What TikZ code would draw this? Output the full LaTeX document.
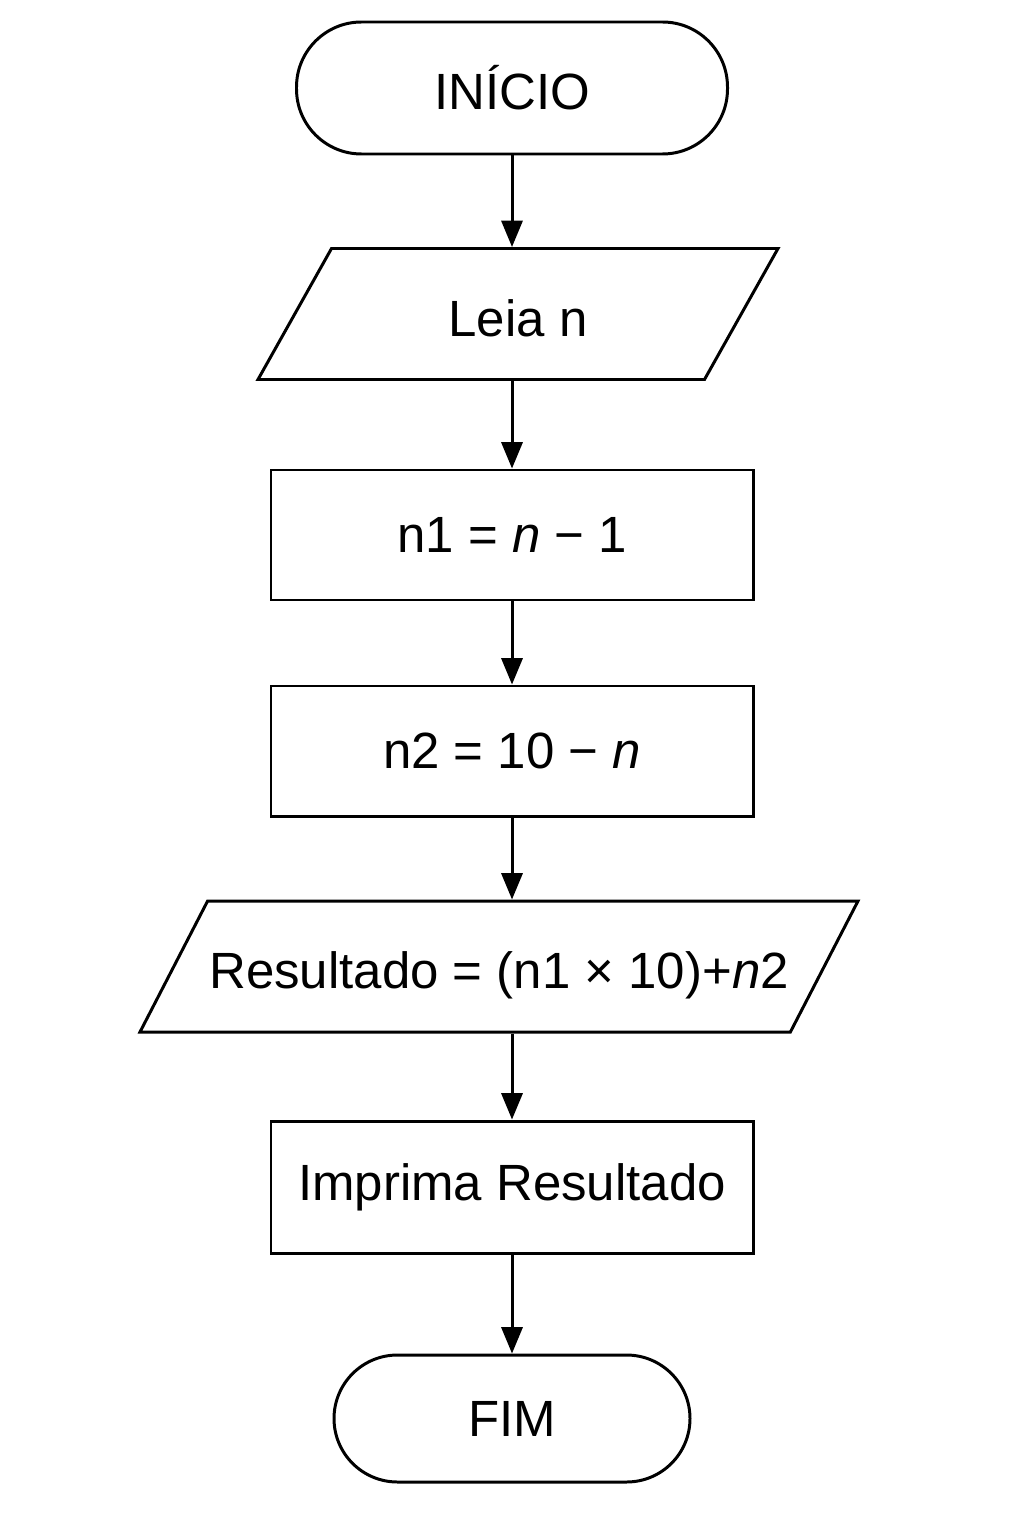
\documentclass[tikz,border=0pt]{standalone}
\usepackage{fontspec}
\setmainfont{Liberation Sans}
\usetikzlibrary{shapes.geometric,arrows.meta}

\begin{document}
\begin{tikzpicture}[
    every node/.style={draw, line width=1.7pt, inner sep=0pt, font=\fontsize{29}{35}\selectfont},
    term/.style={rectangle, rounded corners=1.3cm, minimum height=2.64cm},
    io/.style={trapezium, trapezium stretches body=true, text height=0.94cm, text depth=0.06cm, inner ysep=0.81cm, inner xsep=0pt},
    proc/.style={rectangle, minimum width=9.64cm, minimum height=2.6cm},
    flow/.style={line width=1.7pt, -{Triangle[width=12pt, length=15pt]}}
  ]
    \useasboundingbox (0,0) rectangle (20.48,-30.72);
    \node[term, minimum width=8.62cm] (inicio) at (10.24,-1.76) {INÍCIO};
    \node[io, trapezium left angle=60.7, trapezium right angle=119.3, minimum width=10.4cm] (leia) at (10.36,-6.28) {Leia n};
    \node[proc] (n1) at (10.24,-10.70) {n1 = \textit{n} − 1};
    \node[proc] (n2) at (10.24,-15.02) {n2 = 10 − \textit{n}};
    \node[io, trapezium left angle=62.7, trapezium right angle=117.3, minimum width=14.36cm] (res) at (9.98,-19.33) {Resultado = (n1 × 10)+\textit{n}2};
    \node[proc, minimum height=2.64cm] (imp) at (10.24,-23.74) {Imprima Resultado};
    \node[term, minimum width=7.12cm, minimum height=2.54cm, rounded corners=1.27cm] (fim) at (10.24,-28.37) {FIM};
    \draw[flow] (inicio.south) -- (inicio.south |- leia.north);
    \draw[flow] (inicio.south |- leia.south) -- (n1.north);
    \draw[flow] (n1) -- (n2);
    \draw[flow] (n2.south) -- (n2.south |- res.north);
    \draw[flow] (n2.south |- res.south) -- (imp.north);
    \draw[flow] (imp) -- (fim);
  \end{tikzpicture}
\end{document}
